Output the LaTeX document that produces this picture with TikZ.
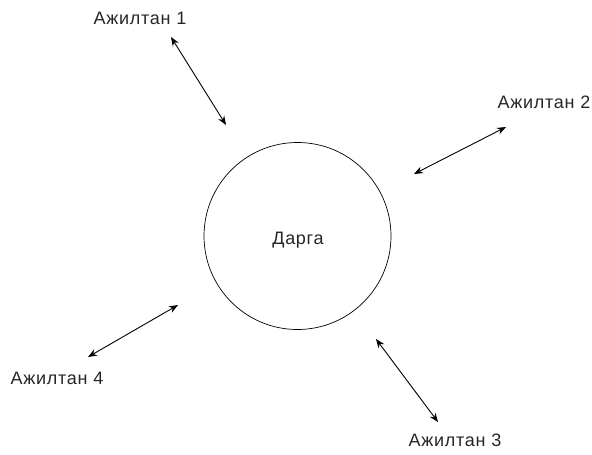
\documentclass[tikz,border=0pt]{standalone}
\usepackage{fontspec}
\setmainfont{Liberation Sans}[LetterSpace=4]
\usetikzlibrary{arrows.meta}
\begin{document}
\begin{tikzpicture}[x=1pt,y=-1pt,
  lbl/.style={font=\fontsize{18}{20}\selectfont, text=black!85, inner sep=0pt},
  link/.style={{Stealth[length=9pt,width=7pt]}-{Stealth[length=9pt,width=7pt]}, line width=0.9pt}]
\useasboundingbox (0,0) rectangle (592,455);
\node[draw, circle, minimum size=187pt, inner sep=0pt, line width=0.7pt] (boss) at (297.5,236) {};
\node[lbl] (bossl) at (298,240) {Дарга};
\node[lbl] (e1) at (140,18) {Ажилтан 1};
\node[lbl] (e2) at (544,102) {Ажилтан 2};
\node[lbl] (e3) at (455,440) {Ажилтан 3};
\node[lbl] (e4) at (57,378) {Ажилтан 4};
\coordinate (p1a) at (171,37);  \coordinate (p1b) at (226,125);
\coordinate (p2a) at (506,127); \coordinate (p2b) at (414,174);
\coordinate (p3a) at (376,339); \coordinate (p3b) at (438,422);
\coordinate (p4a) at (178,305); \coordinate (p4b) at (88,357);
\draw[link] (p1a) -- (p1b);
\draw[link] (p2a) -- (p2b);
\draw[link] (p3a) -- (p3b);
\draw[link] (p4a) -- (p4b);
\end{tikzpicture}
\end{document}
